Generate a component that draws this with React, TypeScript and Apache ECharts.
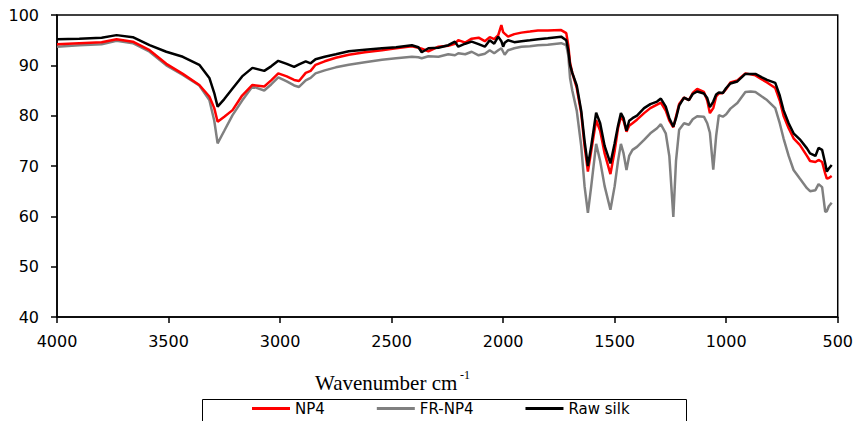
import React, { useEffect, useRef } from "react";
import * as echarts from "echarts";

const wavenumbers = [
  4000, 3900, 3800, 3733, 3660, 3585, 3510, 3436, 3362, 3317,
  3295, 3280, 3250, 3213, 3170, 3124, 3071, 3040, 3008, 2970,
  2937, 2915, 2885, 2863, 2841, 2800, 2750, 2692, 2620, 2543,
  2480, 2409, 2380, 2365, 2335, 2290, 2246, 2216, 2201, 2170,
  2141, 2110, 2082, 2060, 2040, 2022, 2008, 2000, 1993, 1978,
  1950, 1918, 1880, 1844, 1800, 1740, 1717, 1708, 1700, 1690,
  1670, 1650, 1635, 1620, 1605, 1583, 1565, 1545, 1519, 1500,
  1485, 1472, 1460, 1447, 1435, 1420, 1400, 1368, 1340, 1310,
  1293, 1271, 1255, 1237, 1225, 1211, 1189, 1167, 1150, 1130,
  1100, 1085, 1073, 1058, 1045, 1033, 1015, 1000, 981, 950,
  914, 890, 869, 840, 817, 780, 760, 743, 720, 698,
  670, 638, 624, 600, 586, 570, 556, 549, 540, 527,
];

const rawSilk = [
  95.2, 95.3, 95.5, 96.0, 95.6, 94.0, 92.7, 91.7, 90.1, 87.5,
  84.5, 81.8, 83.3, 85.4, 87.8, 89.5, 88.9, 89.8, 90.9, 90.3,
  89.7, 90.2, 90.8, 90.4, 91.2, 91.7, 92.2, 92.8, 93.1, 93.4,
  93.6, 94.0, 93.6, 92.6, 93.4, 93.5, 94.0, 94.7, 93.7, 94.3,
  94.7, 94.2, 93.7, 95.0, 94.3, 95.7, 94.8, 93.7, 94.5, 95.0,
  94.6, 94.8, 95.0, 95.2, 95.4, 95.7, 95.0, 93.0, 90.1, 88.5,
  86.0, 81.0, 75.0, 70.0, 74.0, 80.6, 78.5, 74.0, 70.5, 74.5,
  78.0, 80.5, 79.5, 77.0, 79.0, 79.5, 80.0, 81.5, 82.3, 82.8,
  83.4, 81.8, 79.5, 77.8, 79.5, 82.0, 83.6, 83.1, 84.3, 84.8,
  84.4, 83.5, 81.7, 82.8, 84.2, 84.6, 84.5, 85.5, 86.4, 86.8,
  88.3, 88.3, 88.3, 87.6, 87.1, 86.5, 84.0, 81.1, 78.5, 76.5,
  75.3, 73.5, 72.5, 72.0, 73.6, 73.2, 70.5, 68.9, 69.5, 70.2,
];

const np4 = [
  94.2, 94.4, 94.6, 95.2, 94.7, 93.0, 90.3, 88.3, 86.1, 83.8,
  81.5, 78.8, 79.8, 81.1, 84.0, 86.1, 85.8, 87.0, 88.4, 87.8,
  87.1, 86.9, 88.5, 88.9, 90.1, 90.8, 91.5, 92.1, 92.6, 93.0,
  93.4, 93.8, 93.5, 93.3, 92.8, 93.7, 93.9, 94.3, 95.0, 94.5,
  95.3, 95.5, 94.8, 95.6, 95.2, 96.0, 98.0, 96.6, 96.3, 95.7,
  96.2, 96.5, 96.7, 96.9, 96.9, 97.0, 96.4, 94.0, 90.5, 88.5,
  85.5, 80.5, 74.0, 68.9, 73.0, 79.1, 77.0, 72.5, 68.4, 73.0,
  77.5, 79.8, 79.0, 76.8, 78.0, 78.5, 79.2, 80.5, 81.5, 82.2,
  82.6, 81.0, 79.0, 77.7, 79.8, 82.3, 83.6, 83.1, 84.5, 85.3,
  84.7, 83.0, 80.5, 81.5, 83.8, 84.4, 84.5, 85.3, 86.6, 87.0,
  88.4, 88.2, 88.0, 87.2, 86.6, 85.5, 83.0, 80.0, 77.5, 75.5,
  74.2, 72.0, 71.0, 70.8, 71.2, 70.8, 68.5, 67.5, 67.6, 68.0,
];

const frNp4 = [
  93.7, 94.0, 94.2, 94.9, 94.4, 92.7, 90.0, 88.1, 86.0, 83.1,
  79.0, 74.5, 77.0, 80.1, 83.0, 85.8, 85.0, 86.2, 87.6, 86.8,
  86.0, 85.7, 87.0, 87.5, 88.4, 89.0, 89.6, 90.1, 90.6, 91.1,
  91.4, 91.7, 91.6, 91.4, 91.8, 91.7, 92.2, 92.0, 92.4, 92.2,
  92.7, 92.0, 92.3, 93.0, 92.4, 93.0, 93.4, 92.7, 92.1, 93.0,
  93.4, 93.7, 93.8, 94.0, 94.1, 94.4, 94.0, 92.0, 87.5, 85.0,
  81.0, 74.0, 66.0, 60.7, 66.0, 74.4, 71.0, 66.0, 61.3, 66.0,
  71.0, 74.4, 72.5, 69.2, 72.0, 73.2, 73.8, 75.2, 76.5, 77.5,
  78.3, 76.5, 72.0, 59.9, 71.0, 77.2, 78.5, 78.2, 79.3, 79.9,
  79.8, 78.5, 76.6, 69.3, 76.0, 80.1, 79.8, 80.3, 81.4, 82.5,
  84.7, 84.8, 84.7, 83.8, 83.1, 81.5, 78.5, 75.5, 72.0, 69.2,
  67.5, 65.6, 65.0, 65.2, 66.4, 65.8, 60.9, 61.0, 62.0, 62.7,
];

const seriesNames = ["NP4", "FR-NP4", "Raw silk"];
const xTitle = "Wavenumber cm";
const xTitleSup = "-1";

const pairs = (vals: number[]) => wavenumbers.map((w, i) => [w, vals[i]]);

export default function App() {
  const ref = useRef<HTMLDivElement>(null);
  useEffect(() => {
    document.body.style.margin = "0";
    if (!ref.current) return;
    const chart = echarts.init(ref.current, undefined, { renderer: "svg" });
    const sans = "DejaVu Sans";
    const lineCommon = {
      type: "line" as const,
      symbol: "none",
      showSymbol: false,
      smooth: false,
    };
    chart.setOption({
      animation: false,
      backgroundColor: "#ffffff",
      grid: {
        left: 57,
        right: 16,
        top: 15,
        bottom: 104,
        show: true,
        borderColor: "#000",
        borderWidth: 1.5,
      },
      xAxis: {
        type: "value",
        inverse: true,
        min: 500,
        max: 4000,
        interval: 500,
        axisLine: { show: true, lineStyle: { color: "#000", width: 1.5 } },
        axisTick: { show: true, length: 6, lineStyle: { color: "#000", width: 1.5 } },
        axisLabel: {
          color: "#000",
          fontFamily: sans,
          fontSize: 16,
          margin: 16,
          formatter: (v: number) => String(v),
        },
        splitLine: { show: false },
      },
      yAxis: {
        type: "value",
        min: 40,
        max: 100,
        interval: 10,
        axisLine: { show: true, lineStyle: { color: "#000", width: 1.5 } },
        axisTick: { show: true, length: 6, lineStyle: { color: "#000", width: 1.5 } },
        axisLabel: { color: "#000", fontFamily: sans, fontSize: 16, margin: 18 },
        splitLine: { show: false },
      },
      legend: {
        data: seriesNames,
        left: 252,
        top: 401,
        padding: 0,
        icon: "rect",
        itemWidth: 38,
        itemHeight: 3,
        itemGap: 52,
        textStyle: {
          color: "#000",
          fontFamily: sans,
          fontSize: 15,
          lineHeight: 15,
          padding: [0, 0, 0, 0],
        },
      },
      graphic: [
        {
          type: "rect",
          shape: { x: 202.5, y: 399.5, width: 484, height: 40 },
          style: { fill: "none", stroke: "#000", lineWidth: 1 },
          silent: true,
        },
        {
          type: "text",
          x: 315,
          y: 383,
          style: {
            text: xTitle,
            fill: "#000",
            font: '21px "Liberation Serif"',
            verticalAlign: "middle",
            align: "left",
          },
        },
        {
          type: "text",
          x: 460,
          y: 375,
          style: {
            text: xTitleSup,
            fill: "#000",
            font: '12px "Liberation Serif"',
            verticalAlign: "middle",
            align: "left",
          },
        },
      ],
      series: [
        {
          ...lineCommon,
          name: "FR-NP4",
          data: pairs(frNp4),
          itemStyle: { color: "#808080" },
          lineStyle: { color: "#808080", width: 2.5 },
          z: 2,
        },
        {
          ...lineCommon,
          name: "NP4",
          data: pairs(np4),
          itemStyle: { color: "#ff0000" },
          lineStyle: { color: "#ff0000", width: 2.5 },
          z: 3,
        },
        {
          ...lineCommon,
          name: "Raw silk",
          data: pairs(rawSilk),
          itemStyle: { color: "#000000" },
          lineStyle: { color: "#000000", width: 2.5 },
          z: 4,
        },
      ],
    });
    return () => chart.dispose();
  }, []);
  return <div ref={ref} style={{ width: 856, height: 421 }} />;
}
